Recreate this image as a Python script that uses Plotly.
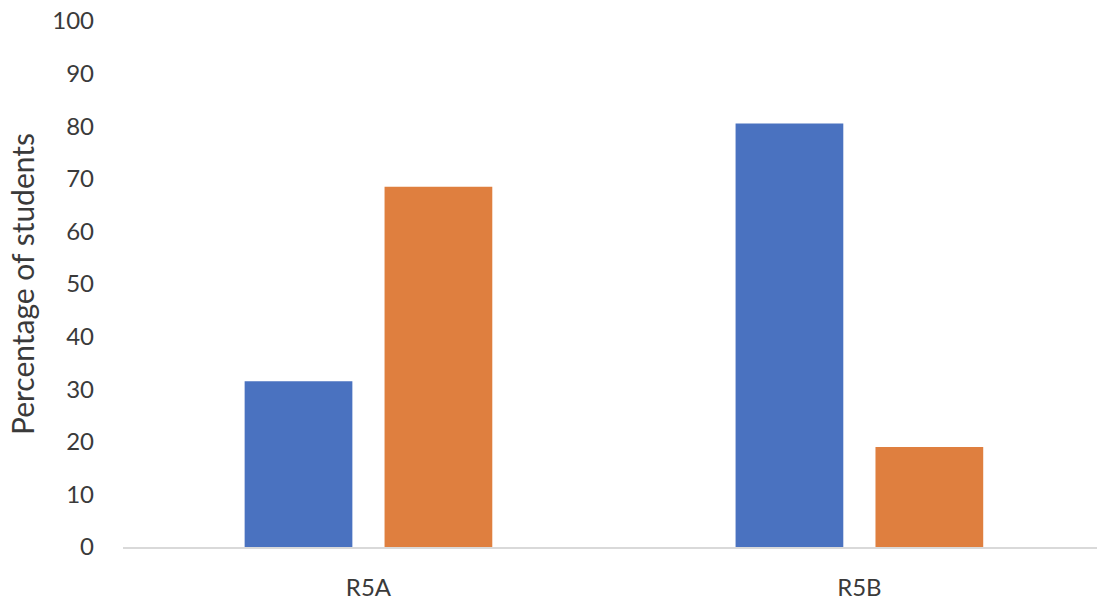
import plotly.graph_objects as go

categories = ["R5A", "R5B"]
series_blue = [31.5, 80.5]
series_orange = [68.5, 19.0]
y_ticks = [0, 10, 20, 30, 40, 50, 60, 70, 80, 90, 100]

BLUE = "#4A72C0"
ORANGE = "#DF7F3F"
TEXT = "#3A3A3A"
FONT = "Lato, 'Open Sans', sans-serif"

fig = go.Figure()
fig.add_trace(go.Bar(x=categories, y=series_blue, marker=dict(color=BLUE, line=dict(width=0)), showlegend=False))
fig.add_trace(go.Bar(x=categories, y=series_orange, marker=dict(color=ORANGE, line=dict(width=0)), showlegend=False))

fig.update_layout(
    width=1097,
    height=601,
    margin=dict(l=123, r=0, t=21, b=54),
    paper_bgcolor="white",
    plot_bgcolor="white",
    barmode="group",
    bargap=0.43,
    bargroupgap=0.23,
    font=dict(family=FONT, size=24, color=TEXT),
    xaxis=dict(
        range=[-0.5, 1.484],
        showline=True,
        linecolor="#D9D9D9",
        linewidth=1.5,
        showgrid=False,
        zeroline=False,
        ticks="",
        ticklabelstandoff=18,
        tickfont=dict(family=FONT, size=24, color=TEXT),
    ),
    yaxis=dict(
        range=[0, 100],
        tickvals=y_ticks,
        showgrid=False,
        zeroline=False,
        showline=False,
        ticks="",
        ticklabelstandoff=28,
        tickfont=dict(family=FONT, size=24, color=TEXT),
        title=dict(text="Percentage of students", font=dict(family=FONT, size=30, color=TEXT), standoff=8),
    ),
)

fig.write_html("out.html")
